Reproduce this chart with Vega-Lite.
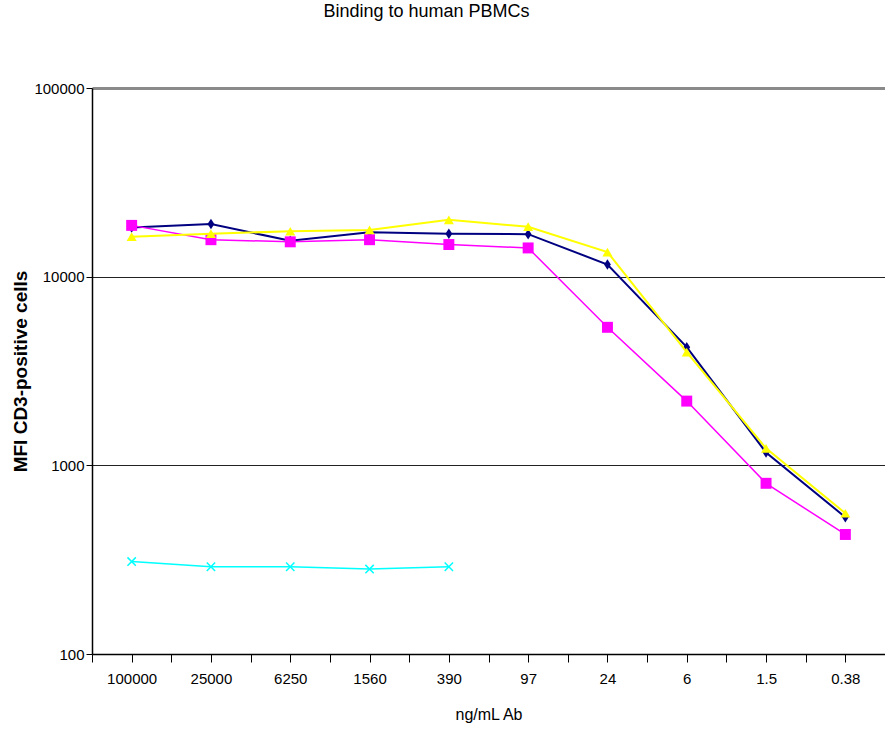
{
  "$schema": "https://vega.github.io/schema/vega-lite/v6.json",
  "autosize": "none",
  "width": 793,
  "height": 566,
  "padding": {"left": 92, "top": 88, "right": 0, "bottom": 77},
  "background": "white",
  "config": {"view": {"stroke": null}, "font": "Liberation Sans"},
  "title": {
    "text": "Binding to human PBMCs",
    "font": "Liberation Sans",
    "fontSize": 18,
    "fontWeight": "normal",
    "color": "#000",
    "anchor": "middle",
    "frame": "group",
    "dx": -62,
    "offset": 60
  },
  "data": {
    "values": [
      {"conc": "100000", "series": "A", "mfi": 18200},
      {"conc": "25000", "series": "A", "mfi": 19000},
      {"conc": "6250", "series": "A", "mfi": 15500},
      {"conc": "1560", "series": "A", "mfi": 17200},
      {"conc": "390", "series": "A", "mfi": 16900},
      {"conc": "97", "series": "A", "mfi": 16800},
      {"conc": "24", "series": "A", "mfi": 11600},
      {"conc": "6", "series": "A", "mfi": 4230},
      {"conc": "1.5", "series": "A", "mfi": 1170},
      {"conc": "0.38", "series": "A", "mfi": 531},
      {"conc": "100000", "series": "B", "mfi": 18700},
      {"conc": "25000", "series": "B", "mfi": 15700},
      {"conc": "6250", "series": "B", "mfi": 15300},
      {"conc": "1560", "series": "B", "mfi": 15700},
      {"conc": "390", "series": "B", "mfi": 14800},
      {"conc": "97", "series": "B", "mfi": 14200},
      {"conc": "24", "series": "B", "mfi": 5390},
      {"conc": "6", "series": "B", "mfi": 2190},
      {"conc": "1.5", "series": "B", "mfi": 803},
      {"conc": "0.38", "series": "B", "mfi": 430},
      {"conc": "100000", "series": "C", "mfi": 16300},
      {"conc": "25000", "series": "C", "mfi": 16900},
      {"conc": "6250", "series": "C", "mfi": 17400},
      {"conc": "1560", "series": "C", "mfi": 17700},
      {"conc": "390", "series": "C", "mfi": 20000},
      {"conc": "97", "series": "C", "mfi": 18400},
      {"conc": "24", "series": "C", "mfi": 13500},
      {"conc": "6", "series": "C", "mfi": 3980},
      {"conc": "1.5", "series": "C", "mfi": 1230},
      {"conc": "0.38", "series": "C", "mfi": 557},
      {"conc": "100000", "series": "D", "mfi": 309},
      {"conc": "25000", "series": "D", "mfi": 290},
      {"conc": "6250", "series": "D", "mfi": 290},
      {"conc": "1560", "series": "D", "mfi": 282},
      {"conc": "390", "series": "D", "mfi": 290}
    ]
  },
  "layer": [
    {
      "encoding": {
        "x": {
          "field": "conc",
          "type": "nominal",
          "scale": {"type": "point", "padding": 0.5, "domain": ["100000", "25000", "6250", "1560", "390", "97", "24", "6", "1.5", "0.38"]},
          "axis": {
            "title": "ng/mL Ab",
            "titleFont": "Liberation Sans",
            "titleFontSize": 16,
            "titleFontWeight": "normal",
            "titleColor": "#000",
            "titlePadding": 20,
            "labelAngle": 0,
            "labelFont": "Liberation Sans",
            "labelFontSize": 15,
            "labelColor": "#000",
            "labelPadding": 9,
            "domainColor": "#000",
            "domainWidth": 1.5,
            "tickColor": "#000",
            "tickWidth": 1,
            "tickSize": 8,
            "grid": false
          }
        },
        "y": {
          "field": "mfi",
          "type": "quantitative",
          "scale": {"type": "log", "domain": [100, 100000]},
          "axis": {
            "title": "MFI CD3-positive cells",
            "titleFont": "Liberation Sans",
            "titleFontSize": 19,
            "titleFontWeight": "bold",
            "titleColor": "#000",
            "titleX": -72,
            "titleY": 283,
            "titleAlign": "center",
            "titleBaseline": "middle",
            "titleAngle": -90,
            "values": [100, 1000, 10000, 100000],
            "format": "d",
            "labelFont": "Liberation Sans",
            "labelFontSize": 15,
            "labelColor": "#000",
            "labelPadding": 2,
            "domainColor": "#000",
            "domainWidth": 1.5,
            "tickColor": "#000",
            "tickSize": 6,
            "grid": true,
            "gridColor": {"condition": {"test": "datum.value == 100000", "value": "#8a8a8a"}, "value": "#222"},
            "gridWidth": {"condition": {"test": "datum.value == 100000", "value": 3}, "value": 1}
          }
        }
      },
      "layer": [
        {
          "transform": [{"filter": "datum.series == 'A'"}],
          "mark": {"type": "line", "color": "#000080", "strokeWidth": 2,
            "point": {"shape": "M0,-1L0.65,0L0,1L-0.65,0Z", "size": 110, "filled": true, "color": "#000080"}}
        },
        {
          "transform": [{"filter": "datum.series == 'B'"}],
          "mark": {"type": "line", "color": "#FF00FF", "strokeWidth": 1.5,
            "point": {"shape": "square", "size": 120, "filled": true, "color": "#FF00FF", "opacity": 1}}
        },
        {
          "transform": [{"filter": "datum.series == 'C'"}],
          "mark": {"type": "line", "color": "#FFFF00", "strokeWidth": 2,
            "point": {"shape": "triangle-up", "size": 100, "filled": true, "color": "#FFFF00", "opacity": 1}}
        },
        {
          "transform": [{"filter": "datum.series == 'D'"}],
          "mark": {"type": "line", "color": "#00FFFF", "strokeWidth": 1.5,
            "point": {"shape": "M-1,-1L1,1M-1,1L1,-1", "size": 70, "filled": false, "stroke": "#00FFFF", "strokeWidth": 1.5, "opacity": 1}}
        }
      ]
    },
    {
      "mark": {"type": "point", "opacity": 0},
      "encoding": {
        "x": {
          "field": "conc",
          "type": "nominal",
          "scale": {"type": "band", "paddingInner": 0, "paddingOuter": 0, "domain": ["100000", "25000", "6250", "1560", "390", "97", "24", "6", "1.5", "0.38"]},
          "axis": {
            "orient": "bottom",
            "tickBand": "extent",
            "labels": false,
            "domain": false,
            "title": null,
            "grid": false,
            "tickColor": "#000",
            "tickSize": 8
          }
        }
      }
    }
  ],
  "resolve": {"scale": {"x": "independent"}, "axis": {"x": "independent"}}
}
